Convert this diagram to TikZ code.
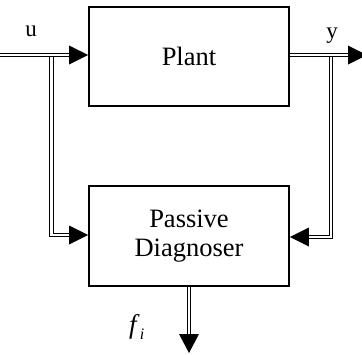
\documentclass[tikz,border=0pt]{standalone}
\usepackage{fontspec}
\setmainfont{Liberation Serif}
\begin{document}
\begin{tikzpicture}[x=1pt,y=-1pt,
  box/.style={draw, line width=1.6pt, minimum width=200pt, minimum height=99pt, inner sep=0pt, align=center, font=\fontsize{26.5}{31}\selectfont},
  dbl/.style={double, double distance=2.2pt, line width=1.2pt},
  head/.style={fill=black},
  lbl/.style={font=\fontsize{23}{27}\selectfont, inner sep=0pt}]
\useasboundingbox (0,0) rectangle (362,354);
\node[box] (plant) at (189,56.5) {Plant};
\node[box, minimum height=100pt] (diag) at (189,236) {Passive\\[-2pt]Diagnoser};
\coordinate (uin) at (0,55);
\coordinate (usplit) at (51.5,55);
\coordinate (ucorner) at (51.5,235);
\coordinate (ysplit) at (331,55);
\coordinate (ycorner) at (331,237);
\coordinate (yout) at (367,55);
\coordinate (fout) at (189,353);
% branches
\draw[dbl] (usplit) -- (ucorner) -- ([xshift=-16pt]diag.west |- ucorner);
\fill[head] (diag.west |- ucorner) -- ++(-19,-9.5) -- ++(0,19) -- cycle;
\draw[dbl] (ysplit) -- (ycorner) -- ([xshift=16pt]diag.east |- ycorner);
\fill[head] (diag.east |- ycorner) -- ++(19,-9.5) -- ++(0,19) -- cycle;
% main lines
\draw[dbl] (uin) -- ([xshift=-16pt]plant.west |- uin);
\fill[head] (plant.west |- uin) -- ++(-19,-9.5) -- ++(0,19) -- cycle;
\draw[dbl] (plant.east |- yout) -- ([xshift=-16pt]yout);
\fill[head] (yout) -- ++(-19,-9.5) -- ++(0,19) -- cycle;
\draw[dbl] (diag.south) -- ([yshift=16pt]fout);
\fill[head] (fout) -- ++(-10,-19) -- ++(20,0) -- cycle;
% labels
\node[lbl, anchor=base] (ulbl) at (31,36.7) {u};
\node[lbl, anchor=base] (ylbl) at (332,38) {y};
\node[lbl, anchor=base west, font=\fontsize{27}{30}\selectfont] (flbl) at (129,333) {\textit{f}\raisebox{-6pt}{\fontsize{16}{18}\selectfont\textit{i}}};
\end{tikzpicture}
\end{document}
